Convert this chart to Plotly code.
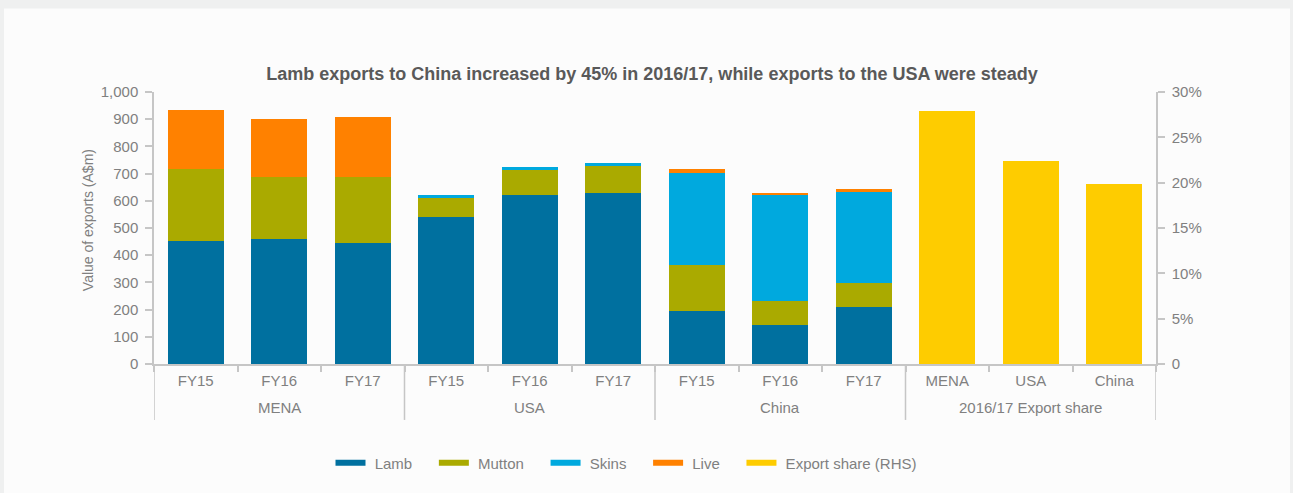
import plotly.graph_objects as go

# Sheep meat export values by market and financial year (A$m)
markets = ["MENA", "USA", "China"]
years = ["FY15", "FY16", "FY17"]
lamb = [452, 459, 444, 540, 620, 628, 195, 143, 209]
mutton = [264, 228, 243, 73, 96, 99, 169, 88, 88]
skins = [0, 0, 0, 7, 7, 11, 337, 389, 334]
live = [219, 213, 220, 0, 0, 0, 15, 8, 11]

# 2016/17 share of total exports (%), right-hand scale
share_group = "2016/17 Export share"
share_markets = ["MENA", "USA", "China"]
share = [27.9, 22.4, 19.8]

series = [
    ("Lamb", lamb, "#00709f"),
    ("Mutton", mutton, "#aaaa00"),
    ("Skins", skins, "#00a9de"),
    ("Live", live, "#ff8100"),
]
share_name = "Export share (RHS)"
share_color = "#fecc00"

# one category per bar; tick text shows only the inner label
stack_cats = [f"{m} {y}" for m in markets for y in years]
stack_text = [y for _ in markets for y in years]
share_cats = [f"{share_group} {m}" for m in share_markets]
all_cats = stack_cats + share_cats
all_text = stack_text + share_markets
group_labels = markets + [share_group]
group_size = len(years)

FONT = "Liberation Sans, Arial, sans-serif"
GREY = "#808080"
LINE = "#c6c6c6"

fig = go.Figure()

for name, vals, color in series:
    fig.add_trace(go.Bar(
        x=stack_cats, y=vals, name=name, marker_color=color,
        marker_line_width=0, showlegend=False, yaxis="y",
    ))

fig.add_trace(go.Bar(
    x=share_cats, y=share, name=share_name, marker_color=share_color,
    marker_line_width=0, showlegend=False, yaxis="y2",
))

# legend entries drawn as short thick lines
NB = "\u00a0"
legend_items = [(n, c) for n, _, c in series] + [(share_name, share_color)]
for i, (name, color) in enumerate(legend_items):
    label = NB + name + (NB * 4 if i < len(legend_items) - 1 else "")
    fig.add_trace(go.Scatter(
        x=share_cats, y=[None] * len(share_cats), mode="lines", name=label,
        line=dict(color=color, width=6), yaxis="y2", hoverinfo="skip",
    ))

# plot area in pixels: x 154..1156, y 92..364
PX0, PX1, PY0, PY1 = 154, 1156, 91.7, 364
def px(p):
    return (p - PX0) / (PX1 - PX0)
def py(q):
    return (PY1 - q) / (PY1 - PY0)

# group dividers and group labels under the category axis
shapes = [dict(
    type="rect", xref="paper", yref="paper", layer="below",
    x0=px(4), x1=px(1290), y0=py(520), y1=py(8),
    fillcolor="#fcfcfc", line_width=0,
)]
for k in range(len(group_labels) + 1):
    xb = k * group_size - 0.5
    shapes.append(dict(
        type="line", xref="x", yref="paper", x0=xb, x1=xb,
        y0=0, y1=py(420), line=dict(color=LINE, width=1.5),
    ))

annotations = [dict(
    text="Value of exports (A$m)", textangle=-90,
    xref="paper", yref="paper", x=px(88), y=py(220),
    xanchor="center", yanchor="middle", showarrow=False,
    font=dict(size=14, color=GREY),
)]
for k, g in enumerate(group_labels):
    annotations.append(dict(
        text=g, xref="x", yref="paper",
        x=k * group_size + (group_size - 1) / 2, y=py(408),
        xanchor="center", yanchor="middle", showarrow=False,
        font=dict(size=15, color=GREY),
    ))

fig.update_layout(
    width=1293, height=493,
    margin=dict(l=154, r=137, t=92, b=129, pad=0),
    paper_bgcolor="#eff0f0",
    plot_bgcolor="rgba(0,0,0,0)",
    barmode="stack",
    bargap=0.33,
    font=dict(family=FONT, size=15, color=GREY),
    title=dict(
        text="Lamb exports to China increased by 45% in 2016/17, while exports to the USA were steady",
        x=px(652), xref="paper", xanchor="center",
        y=1 - 74 / 493, yref="container", yanchor="middle",
        font=dict(family=FONT, size=18, color="#595959", weight="bold"),
    ),
    xaxis=dict(
        type="category", categoryorder="array", categoryarray=all_cats,
        tickvals=all_cats, ticktext=all_text, tickson="boundaries",
        range=[-0.5, len(all_cats) - 0.5],
        showline=True, linecolor=LINE, linewidth=1.5,
        ticks="outside", ticklen=6, tickcolor=LINE, tickwidth=1.5,
        ticklabelstandoff=2,
        showgrid=False, zeroline=False,
        tickfont=dict(size=15, color=GREY),
    ),
    yaxis=dict(
        range=[0, 1000], dtick=100, tickformat=",",
        showline=True, linecolor=LINE, linewidth=1.5,
        ticks="outside", ticklen=7, tickcolor=LINE, tickwidth=1.5,
        ticklabelstandoff=4,
        showgrid=False, zeroline=False,
        tickfont=dict(size=15, color=GREY),
    ),
    yaxis2=dict(
        overlaying="y", side="right", range=[0, 30],
        tickvals=[0, 5, 10, 15, 20, 25, 30],
        ticktext=["0", "5%", "10%", "15%", "20%", "25%", "30%"],
        showline=True, linecolor=LINE, linewidth=1.5,
        ticks="outside", ticklen=7, tickcolor=LINE, tickwidth=1.5,
        ticklabelstandoff=4,
        showgrid=False, zeroline=False,
        tickfont=dict(size=15, color=GREY),
    ),
    legend=dict(
        orientation="h", traceorder="normal", x=px(626), xanchor="center",
        y=py(463), yanchor="middle",
        font=dict(size=15, color=GREY), bgcolor="rgba(0,0,0,0)",
    ),
    shapes=shapes,
    annotations=annotations,
)

fig.write_html("out.html")
